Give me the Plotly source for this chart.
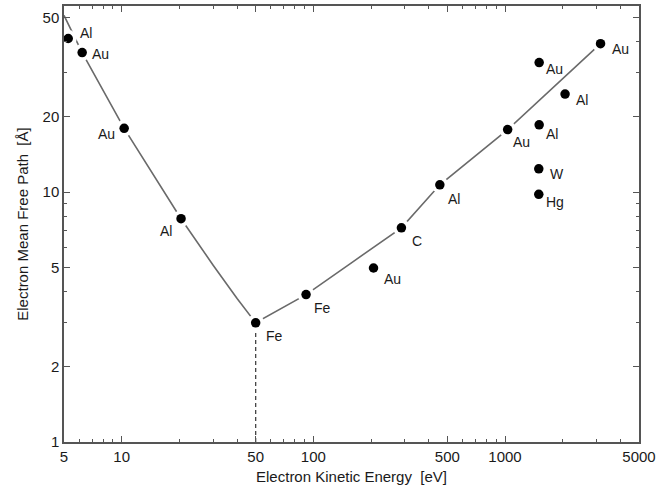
import math
import plotly.graph_objects as go

# Universal curve vertices: kinetic energy (eV) and mean free path (Å)
curve_energy = [5.0, 6.22, 10.3, 20.4, 30, 40, 50, 91.6, 160, 288, 457, 1032, 3150]
curve_path = [51, 36.2, 18.0, 7.83, 5.1, 3.75, 3.0, 3.89, 5.25, 7.2, 10.7, 17.8, 39.3]

# Measured values for individual elements
elements = ["Al", "Au", "Au", "Al", "Fe", "Fe", "Au", "C", "Al", "Au", "Au", "Au", "Al", "Al", "W", "Hg"]
energy = [5.26, 6.22, 10.3, 20.4, 50, 91.6, 206, 288, 457, 1032, 3150, 1507, 2057, 1507, 1500, 1500]
path = [41.2, 36.2, 18.0, 7.83, 3.0, 3.89, 4.97, 7.2, 10.7, 17.8, 39.3, 33.0, 24.7, 18.6, 12.4, 9.8]

# Minimum of the curve, marked with a dashed drop line
min_energy = 50
min_path = 3.0

x_ticks = [5, 10, 50, 100, 500, 1000, 5000]
y_ticks = [1, 2, 5, 10, 20, 50]
x_minor = [6, 7, 8, 9, 20, 30, 40, 60, 70, 80, 90, 200, 300, 400, 600, 700, 800, 900, 2000, 3000, 4000]
y_minor = [3, 4, 6, 7, 8, 9, 30, 40]

# Label placement (pixel offsets from each dot; dy positive is downward)
label_anchor = ["left", "left", "right", "right", "left", "left", "left", "left",
                "left", "left", "left", "left", "left", "left", "left", "left"]
label_dx = [10, 8, -7, -7, 8, 6, 8, 9, 6, 3, 9, 5, 9, 5, 9, 5]
label_dy = [-6, 1, 6, 12, 13, 13, 11, 13, 14, 12, 5, 6, 6, 9, 5, 8]

FONT = "Liberation Sans, Arial, Helvetica, sans-serif"
FRAME = "#555555"

fig = go.Figure()

fig.add_trace(go.Scatter(
    x=[min_energy, min_energy], y=[1, min_path], mode="lines",
    line=dict(color="#444444", width=1.3, dash="4px,3px"),
    hoverinfo="skip", showlegend=False))

fig.add_trace(go.Scatter(
    x=curve_energy, y=curve_path, mode="lines",
    line=dict(color="#6a6a6a", width=1.6),
    hoverinfo="skip", showlegend=False))

# white halo so the curve breaks around each dot
fig.add_trace(go.Scatter(
    x=energy, y=path, mode="markers",
    marker=dict(size=17, color="white", line=dict(width=0)),
    hoverinfo="skip", showlegend=False))

fig.add_trace(go.Scatter(
    x=energy, y=path, mode="markers", text=elements,
    marker=dict(size=9.5, color="black", line=dict(width=0)),
    showlegend=False))

for el, e, p, anc, dx, dy in zip(elements, energy, path, label_anchor, label_dx, label_dy):
    fig.add_annotation(
        x=math.log10(e), y=math.log10(p), xref="x", yref="y",
        text=el, showarrow=False, xanchor=anc, yanchor="middle",
        xshift=dx, yshift=-dy,
        font=dict(family=FONT, size=14, color="#1a1a1a"))

axis_common = dict(
    type="log", showgrid=False, zeroline=False,
    showline=True, linecolor=FRAME, linewidth=1.5, mirror="allticks",
    ticks="inside", ticklen=6, tickwidth=1, tickcolor=FRAME,
    tickfont=dict(family=FONT, size=15, color="#1a1a1a"),
    title_font=dict(family=FONT, size=15, color="#1a1a1a"),
)

fig.update_xaxes(
    **axis_common,
    range=[math.log10(5), math.log10(5000)],
    tickmode="array", tickvals=x_ticks, ticktext=[str(v) for v in x_ticks],
    minor=dict(tickmode="array", tickvals=x_minor, ticks="inside", ticklen=3, tickcolor=FRAME),
    title_text="Electron Kinetic Energy  [eV]", title_standoff=8,
)
fig.update_yaxes(
    **axis_common,
    range=[0, 1.745],
    tickmode="array", tickvals=y_ticks, ticktext=[str(v) for v in y_ticks],
    minor=dict(tickmode="array", tickvals=y_minor, ticks="inside", ticklen=3, tickcolor=FRAME),
    title_text="Electron Mean Free Path  [Å]", title_standoff=10,
)

fig.update_layout(
    width=660, height=491,
    margin=dict(l=64, r=18, t=4, b=49),
    paper_bgcolor="white", plot_bgcolor="white",
    showlegend=False,
)

fig.write_html("out.html")
